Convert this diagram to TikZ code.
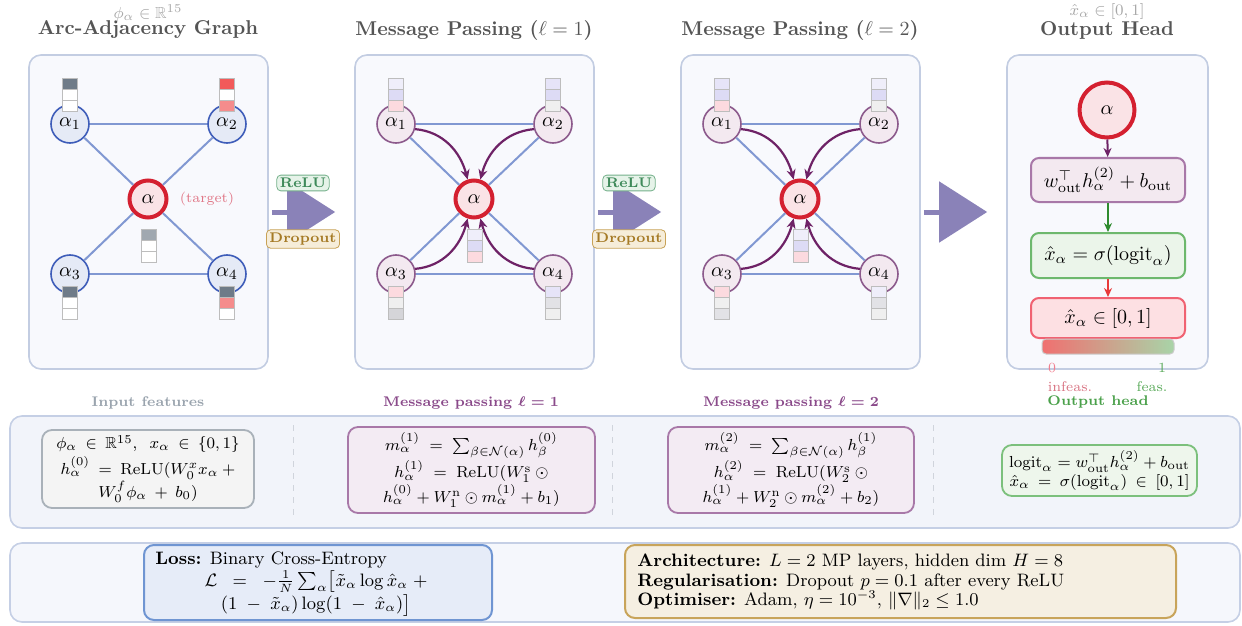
\documentclass[tikz,border=0pt]{standalone}
\usepackage{amsmath,amssymb}
\usetikzlibrary{arrows.meta,calc}
\definecolor{panelbg}{HTML}{F8F9FD}
\definecolor{panelbd}{HTML}{C3CDE2}
\definecolor{titleg}{HTML}{555555}
\definecolor{supg}{HTML}{A8A8A8}
\definecolor{nbf}{HTML}{E5EAF6}
\definecolor{nbd}{HTML}{3E5DB9}
\definecolor{npf}{HTML}{F3E9F0}
\definecolor{npd}{HTML}{8C5A8C}
\definecolor{tgtf}{HTML}{FAE3E6}
\definecolor{tgtd}{HTML}{D42030}
\definecolor{edgec}{HTML}{8198D2}
\definecolor{msgc}{HTML}{6E2266}
\definecolor{bigc}{HTML}{8A82B8}
\definecolor{reluf}{HTML}{E6F3E9}
\definecolor{relud}{HTML}{74B08A}
\definecolor{relut}{HTML}{3F8A5A}
\definecolor{dropf}{HTML}{F6EDD9}
\definecolor{dropd}{HTML}{C8A256}
\definecolor{dropt}{HTML}{A57A25}
\definecolor{slate}{HTML}{6F7B88}
\definecolor{fred}{HTML}{F25A5A}
\definecolor{flred}{HTML}{F58C8C}
\definecolor{fgray}{HTML}{A0A8B0}
\definecolor{lavA}{HTML}{EFEEFA}
\definecolor{lavB}{HTML}{DDDBF5}
\definecolor{lavC}{HTML}{E6E4F8}
\definecolor{pinkA}{HTML}{FCDADF}
\definecolor{lgA}{HTML}{EFEFEF}
\definecolor{gA}{HTML}{D5D5D9}
\definecolor{gB}{HTML}{E2E2E6}
\definecolor{barbd}{HTML}{BDBDBD}
\definecolor{targc}{HTML}{E07585}
\definecolor{oaf}{HTML}{F3E9F0}
\definecolor{oad}{HTML}{A878A8}
\definecolor{obf}{HTML}{EBF5EA}
\definecolor{obd}{HTML}{6DB86D}
\definecolor{ocf}{HTML}{FDE0E3}
\definecolor{ocd}{HTML}{F06272}
\definecolor{arrg}{HTML}{2E8B2E}
\definecolor{arrr}{HTML}{E83A3A}
\definecolor{gradr}{HTML}{F07070}
\definecolor{gradg}{HTML}{A8D4A8}
\definecolor{zeroc}{HTML}{F08090}
\definecolor{onec}{HTML}{5AAA5A}
\definecolor{bandf}{HTML}{F2F4FA}
\definecolor{bandd}{HTML}{C5CFE5}
\definecolor{bxaf}{HTML}{F4F4F4}
\definecolor{bxad}{HTML}{A9B1B9}
\definecolor{bxbf}{HTML}{F3EBF3}
\definecolor{bxbd}{HTML}{A878A8}
\definecolor{bxcf}{HTML}{EEF6EC}
\definecolor{bxcd}{HTML}{7CC07C}
\definecolor{inpc}{HTML}{9AA4AE}
\definecolor{mpc}{HTML}{8A4A8A}
\definecolor{outc}{HTML}{4AA04A}
\definecolor{sepc}{HTML}{D0D4DC}
\definecolor{botf}{HTML}{F5F7FC}
\definecolor{lossf}{HTML}{E6ECF8}
\definecolor{lossd}{HTML}{6F95D2}
\definecolor{archf}{HTML}{F5EFE2}
\definecolor{archd}{HTML}{C8A45A}
\newcommand\fbar[5]{\foreach \cc [count=\ii from 0] in {#3,#4,#5}{\draw[barst,fill=\cc] ({#1-7.5},{#2+\ii*11}) rectangle ({#1+7.5},{#2+\ii*11+11});}}
\begin{document}
\begin{tikzpicture}[x=0.5pt,y=-0.5pt,
  panel/.style={draw=panelbd,line width=0.8pt,fill=panelbg,rounded corners=6pt,minimum width=119.5pt,minimum height=157pt,inner sep=0pt},
  title/.style={font=\bfseries,text=titleg},
  sup/.style={font=\footnotesize,text=supg},
  nb/.style={circle,draw=nbd,fill=nbf,line width=0.8pt,minimum size=19pt,inner sep=0pt},
  np/.style={circle,draw=npd,fill=npf,line width=0.8pt,minimum size=19pt,inner sep=0pt},
  tgt/.style={circle,draw=tgtd,fill=tgtf,line width=2pt,minimum size=18.5pt,inner sep=0pt},
  edge/.style={draw=edgec,line width=1pt},
  msg/.style={draw=msgc,line width=1.1pt,-{Stealth[length=5pt,width=4.5pt]}},
  bigarr/.style={draw=bigc,line width=2.5pt,-{Triangle[length=24pt,width=30pt]},shorten <=1.5pt,shorten >=9.5pt},
  barst/.style={draw=barbd,line width=0.5pt},
  relu/.style={draw=relud,fill=reluf,text=relut,rounded corners=2pt,font=\scriptsize\bfseries,inner sep=1.5pt,minimum width=25.5pt,minimum height=7.5pt},
  drop/.style={draw=dropd,fill=dropf,text=dropt,rounded corners=2pt,font=\scriptsize\bfseries,inner sep=1.5pt,minimum width=35.5pt,minimum height=8pt},
  obox/.style={rounded corners=4pt,line width=1pt,minimum width=77pt,inner sep=0pt},
  oarr/.style={line width=1pt,-{Stealth[length=4.5pt,width=4pt]}},
  sm/.style={font=\scriptsize},
  mbox/.style={rounded corners=5pt,line width=0.9pt,align=center,inner sep=0pt,font=\footnotesize}
]
\useasboundingbox (0,0) rectangle (1242,626);

% ---- panels ----
\node[panel] (p1) at (148.5,212) {};
\node[panel] (p2) at (474.5,212) {};
\node[panel] (p3) at (800.5,212) {};
\node[panel,minimum width=100.5pt] (p4) at (1107.5,212) {};

% ---- titles ----
\node[sup] (s1) at (148,13) {$\phi_\alpha\in\mathbb{R}^{15}$};
\node[title] (t1) at (148,30) {Arc-Adjacency Graph};
\node[title] (t2) at (474,30) {Message Passing ($\ell=1$)};
\node[title] (t3) at (800,30) {Message Passing ($\ell=2$)};
\node[sup] (s4) at (1107,12) {$\hat x_\alpha\in[0,1]$};
\node[title] (t4) at (1107,30) {Output Head};

% ---- panel 1 ----
\node[nb] (g1a1) at (70,124) {$\alpha_1$};
\node[nb] (g1a2) at (227,124) {$\alpha_2$};
\node[nb] (g1a3) at (70,274) {$\alpha_3$};
\node[nb] (g1a4) at (227,274) {$\alpha_4$};
\node[tgt] (g1c) at (148,199) {$\alpha$};
\draw[edge] (g1a1) -- (g1a2);
\draw[edge] (g1a3) -- (g1a4);
\draw[edge] (g1a1) -- (g1c);
\draw[edge] (g1a2) -- (g1c);
\draw[edge] (g1a3) -- (g1c);
\draw[edge] (g1a4) -- (g1c);
\node[sm,text=targc] (targ) at (207,199) {(target)};
\fbar{70}{79}{slate}{white}{white}
\fbar{227}{79}{fred}{white}{flred}
\fbar{148.5}{229}{fgray}{white}{white}
\fbar{70}{286}{slate}{white}{white}
\fbar{227}{286}{slate}{flred}{white}

% ---- panel 2 ----
\node[np] (g2a1) at (396,124) {$\alpha_1$};
\node[np] (g2a2) at (553,124) {$\alpha_2$};
\node[np] (g2a3) at (396,274) {$\alpha_3$};
\node[np] (g2a4) at (553,274) {$\alpha_4$};
\node[tgt] (g2c) at (474,199) {$\alpha$};
\draw[edge] (g2a1) -- (g2a2);
\draw[edge] (g2a3) -- (g2a4);
\draw[edge] (g2a1) -- (g2c);
\draw[edge] (g2a2) -- (g2c);
\draw[edge] (g2a3) -- (g2c);
\draw[edge] (g2a4) -- (g2c);
\draw[msg] (g2a1.-15) to[out=-5,in=105] (g2c.108);
\draw[msg] (g2a2.195) to[out=185,in=75] (g2c.72);
\draw[msg] (g2a3.15) to[out=5,in=-105] (g2c.-108);
\draw[msg] (g2a4.165) to[out=175,in=-75] (g2c.-72);
\fbar{396}{79}{lavA}{lavB}{pinkA}
\fbar{553}{79}{lavC}{lavB}{lgA}
\fbar{474.5}{229}{lavA}{lavB}{pinkA}
\fbar{396}{286}{pinkA}{lgA}{gA}
\fbar{553}{286}{lavC}{gB}{lgA}

% ---- panel 3 ----
\node[np] (g3a1) at (722,124) {$\alpha_1$};
\node[np] (g3a2) at (879,124) {$\alpha_2$};
\node[np] (g3a3) at (722,274) {$\alpha_3$};
\node[np] (g3a4) at (879,274) {$\alpha_4$};
\node[tgt] (g3c) at (800,199) {$\alpha$};
\draw[edge] (g3a1) -- (g3a2);
\draw[edge] (g3a3) -- (g3a4);
\draw[edge] (g3a1) -- (g3c);
\draw[edge] (g3a2) -- (g3c);
\draw[edge] (g3a3) -- (g3c);
\draw[edge] (g3a4) -- (g3c);
\draw[msg] (g3a1.-15) to[out=-5,in=105] (g3c.108);
\draw[msg] (g3a2.195) to[out=185,in=75] (g3c.72);
\draw[msg] (g3a3.15) to[out=5,in=-105] (g3c.-108);
\draw[msg] (g3a4.165) to[out=175,in=-75] (g3c.-72);
\fbar{722}{79}{lavC}{lavB}{pinkA}
\fbar{879}{79}{lavA}{lavB}{lgA}
\fbar{800.5}{229}{lavA}{lavB}{pinkA}
\fbar{722}{286}{pinkA}{lgA}{gB}
\fbar{879}{286}{lavA}{gB}{lgA}

% ---- big arrows ----
\draw[bigarr] (p1.east) -- (p2.west);
\draw[bigarr] (p2.east) -- (p3.west);
\draw[bigarr] (p3.east) -- (p4.west);
\node[relu] (r1) at (303,183) {ReLU};
\node[drop] (d1) at (303,239) {Dropout};
\node[relu] (r2) at (629,183) {ReLU};
\node[drop] (d2) at (629,239) {Dropout};

% ---- panel 4 ----
\node[tgt,minimum size=27.5pt] (oc) at (1107,110) {$\alpha$};
\node[obox,draw=oad,fill=oaf,minimum height=22pt] (o1) at (1108,180) {$w_{\mathrm{out}}^{\top}h_\alpha^{(2)}+b_{\mathrm{out}}$};
\node[obox,draw=obd,fill=obf,minimum height=22.5pt] (o2) at (1108,255.5) {$\hat x_\alpha=\sigma(\mathrm{logit}_\alpha)$};
\node[obox,draw=ocd,fill=ocf,minimum height=20pt] (o3) at (1108,318) {$\hat x_\alpha\in[0,1]$};
\draw[oarr,msgc] (oc) -- (o1);
\draw[oarr,arrg] (o1) -- (o2);
\draw[oarr,arrr] (o2) -- (o3);
\shadedraw[left color=gradr,right color=gradg,draw=black!20,line width=0.5pt,rounded corners=2pt] (1042,339) rectangle (1174,354);
\node[sm,text=zeroc] (n0) at (1052,368) {0};
\node[sm,text=onec] (n1) at (1162,368) {1};
\node[sm,text=zeroc!90!black] (inf) at (1070,387) {infeas.};
\node[sm,text=onec] (fea) at (1152,387) {feas.};
\node[sm,font=\scriptsize\bfseries,text=outc] (oh) at (1098,402) {Output head};

% ---- middle band ----
\node[sm,font=\scriptsize\bfseries,text=inpc] (li) at (148,403) {Input features};
\node[sm,font=\scriptsize\bfseries,text=mpc] (lm1) at (471,403) {Message passing $\boldsymbol{\ell=1}$};
\node[sm,font=\scriptsize\bfseries,text=mpc] (lm2) at (791,403) {Message passing $\boldsymbol{\ell=2}$};
\draw[draw=bandd,fill=bandf,line width=0.8pt,rounded corners=6pt] (10,416) rectangle (1240,528);
\foreach \xx in {293,612,933} \draw[sepc,dashed,line width=0.5pt] (\xx,425) -- (\xx,520);
\node[mbox,draw=bxad,fill=bxaf,minimum width=106pt,minimum height=39pt] (m1) at (148,469)
 {$\phi_\alpha\:\in\:\mathbb{R}^{15},\;\; x_\alpha\:\in\:\{0,1\}$\\[1pt]
  $h_\alpha^{(0)}\:=\:\mathrm{ReLU}(W_0^{x}x_\alpha\:+$\\
  $W_0^{f}\phi_\alpha\:+\:b_0)$};
\node[mbox,draw=bxbd,fill=bxbf,minimum width=123.5pt,minimum height=43pt] (m2) at (471.5,470)
 {$m_\alpha^{(1)}\;=\;\textstyle\sum_{\beta\in\mathcal{N}(\alpha)}h_\beta^{(0)}$\\
  $h_\alpha^{(1)}\;=\;\mathrm{ReLU}(W_1^{\mathrm{s}}\:\odot$\\
  $h_\alpha^{(0)}+W_1^{\mathrm{n}}\odot m_\alpha^{(1)}+b_1)$};
\node[mbox,draw=bxbd,fill=bxbf,minimum width=123pt,minimum height=43pt] (m3) at (791,470)
 {$m_\alpha^{(2)}\;=\;\textstyle\sum_{\beta\in\mathcal{N}(\alpha)}h_\beta^{(1)}$\\
  $h_\alpha^{(2)}\;=\;\mathrm{ReLU}(W_2^{\mathrm{s}}\:\odot$\\
  $h_\alpha^{(1)}+W_2^{\mathrm{n}}\odot m_\alpha^{(2)}+b_2)$};
\node[mbox,draw=bxcd,fill=bxcf,minimum width=97.5pt,minimum height=25.5pt] (m4) at (1099.5,470.5)
 {$\mathrm{logit}_\alpha=w_{\mathrm{out}}^{\top}h_\alpha^{(2)}+b_{\mathrm{out}}$\\
  $\hat x_\alpha\:=\:\sigma(\mathrm{logit}_\alpha)\:\in\:[0,1]$};

% ---- bottom band ----
\draw[draw=bandd,fill=botf,line width=0.8pt,rounded corners=6pt] (10,543) rectangle (1240,622);
\node[draw=lossd,fill=lossf,line width=1pt,rounded corners=5pt,minimum width=174pt,minimum height=37.5pt,inner sep=0pt] (loss) at (318,582.5) {};
\node[anchor=west,inner sep=0pt,font=\fontsize{9}{9.8}\selectfont] (lossh) at (155,560)
 {\textbf{Loss:} Binary Cross-Entropy};
\node[anchor=center,inner sep=0pt,align=center,font=\fontsize{9}{10}\selectfont] (losst) at (316,593.5)
 {$\mathcal{L}\;\;=\;\;-\tfrac{1}{N}\textstyle\sum_\alpha\bigl[\tilde x_\alpha\log\hat x_\alpha\;+$\\
  $(1\;-\;\tilde x_\alpha)\log(1\;-\;\hat x_\alpha)\bigr]$};
\node[draw=archd,fill=archf,line width=1pt,rounded corners=5pt,minimum width=275.5pt,minimum height=36.5pt,inner sep=0pt] (arch) at (900.5,581.5) {};
\node[anchor=west,inner sep=0pt,align=left,font=\fontsize{9}{9.8}\selectfont] (archt) at (637,582)
 {\textbf{Architecture:} $L=2$ MP layers, hidden dim $H=8$\\
  \textbf{Regularisation:} Dropout $p=0.1$ after every ReLU\\
  \textbf{Optimiser:} Adam, $\eta=10^{-3}$, $\|\nabla\|_2\le1.0$};
\end{tikzpicture}
\end{document}
